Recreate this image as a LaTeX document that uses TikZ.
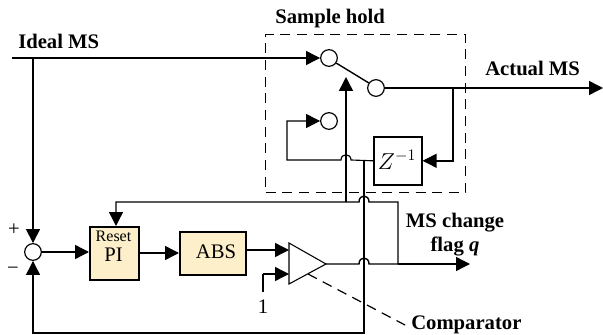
\documentclass[tikz,border=0pt]{standalone}
\usepackage{fontspec}
\setmainfont{Liberation Serif}
\usetikzlibrary{arrows.meta}
\definecolor{cream}{HTML}{FDEFC9}
\tikzset{
 x=0.75pt,y=-0.75pt,
 wire/.style={line width=1.05pt,black},
 flow/.style={wire,-{Triangle[length=10.5pt,width=10.5pt]}},
 port/.style={circle,draw,line width=0.9pt,fill=white,minimum size=12.5pt,inner sep=0pt},
 blockbox/.style={draw,line width=1.2pt,inner sep=0pt,anchor=north west},
 lab/.style={font=\bfseries\fontsize{15.5}{18}\selectfont,inner sep=0pt,align=center},
 plain/.style={font=\fontsize{15.5}{18}\selectfont,inner sep=0pt},
 dashline/.style={line width=1.1pt,dash pattern=on 7.5pt off 5pt},
}
\begin{document}
\begin{tikzpicture}
\useasboundingbox (0,0) rectangle (603,335);
% dashed box
\node[draw,dashline,minimum width=150pt,minimum height=118.5pt,inner sep=0pt,anchor=north west] (hold) at (265,34) {};
% ports
\node[port] (sw1) at (329,58) {};
\node[port] (sw2) at (376,88) {};
\node[port] (sw3) at (329,121) {};
\node[port] (sum) at (33,252) {};
% blocks
\node[blockbox,minimum width=36pt,minimum height=36pt] (zbox) at (373,136) {};
\node[inner sep=0pt,font=\fontsize{17}{18}\selectfont] (zlab) at (397,160) {$Z^{-1}$};
\node[blockbox,fill=cream,minimum width=36.75pt,minimum height=39.75pt] (pi) at (89,226) {};
\node[inner sep=0pt,font=\fontsize{12}{12}\selectfont] (resetl) at (113.5,236.5) {Reset};
\node[inner sep=0pt,font=\fontsize{15.5}{15.5}\selectfont] (pil) at (113.5,255) {PI};
\node[blockbox,fill=cream,minimum width=49.5pt,minimum height=32.25pt] (abs) at (179,231) {};
\node[plain] (absl) at (216,252) {ABS};
% comparator
\coordinate (ca) at (289,243);
\coordinate (cb) at (289,284);
\coordinate (ct) at (326,264);
\draw[line width=0.8pt,line join=miter] (ca) -- (ct) -- (cb) -- cycle;
\coordinate (in1) at (289,250);
\coordinate (in2) at (289,274);
% junctions
\coordinate (idealstart) at (12,58);
\coordinate (idealtap) at (33,58);
\coordinate (outtap) at (453,88);
\coordinate (outend) at (603,88);
\coordinate (ztap) at (364,160);
\coordinate (zloop) at (287,160);
\coordinate (zloopup) at (287,121);
\coordinate (qjoin) at (398,264);
\coordinate (qend) at (470,264);
\coordinate (pitop) at (116,202);
\coordinate (swdrive) at (346,202);
\coordinate (swtip) at (346,77);
\coordinate (fbleft) at (33,333);
\coordinate (one) at (263,292);
\coordinate (onecorner) at (263,274);
\coordinate (dstart) at (308,274);
\coordinate (dend) at (405,325);
% signals
\draw[flow,line width=0.85pt] (idealstart) -- (sw1.west);
\draw[wire] (sw1.-35) -- (sw2.145);
\draw[flow] (sw2.east) -- (outend);
\draw[flow] (idealtap) -- (sum.north);
\draw[flow] (sum.east) -- (pi.west |- sum.east);
\draw[flow] (pi.east |- 0,253) -- (abs.west |- 0,253);
\draw[flow] (abs.east |- in1) -- (in1);
\draw[flow] (onecorner) -- (in2);
\draw[wire] (one) -- (onecorner);
\draw[flow] (outtap) |- (zbox.east);
\draw[flow] (swdrive) -- (swtip);
% Z loop with hop
\draw[flow,line width=0.85pt] (zbox.west) -- (351,160) .. controls (351,153) and (341,153) .. (341,160) -- (zloop) -- (zloopup) -- (sw3.west);
% feedback
\draw[flow,line width=0.85pt] (ztap) -- (364,333) -- (fbleft) -- (sum.south);
% flag line with hop
\draw[wire] (ct) -- (359,264) .. controls (359,256) and (369,256) .. (369,264) -- (qjoin);
\draw[flow] (qjoin) -- (qend);
% reset line with hop
\draw[flow] (qjoin) -- (398,202) -- (369,202) .. controls (369,194) and (359,194) .. (359,202) -- (pitop) -- (pi.north -| pitop);
% comparator callout
\draw[dashline,line width=0.9pt] (dstart) -- (dend);
% labels
\node[lab,anchor=west] (tideal) at (18,41) {Ideal MS};
\node[lab,anchor=west] (thold) at (275,19) {Sample hold};
\node[lab,anchor=west] (tactual) at (485,68) {Actual MS};
\node[lab] (tflag) at (455,235) {MS change\\[0pt]flag \textit{q}};
\node[lab,anchor=west] (tcomp) at (411,325) {Comparator};
\node[plain] (tone) at (263,307) {1};
\node[plain] (tplus) at (14,230) {+};
\node[plain] (tminus) at (13,271) {−};
\end{tikzpicture}
\end{document}
